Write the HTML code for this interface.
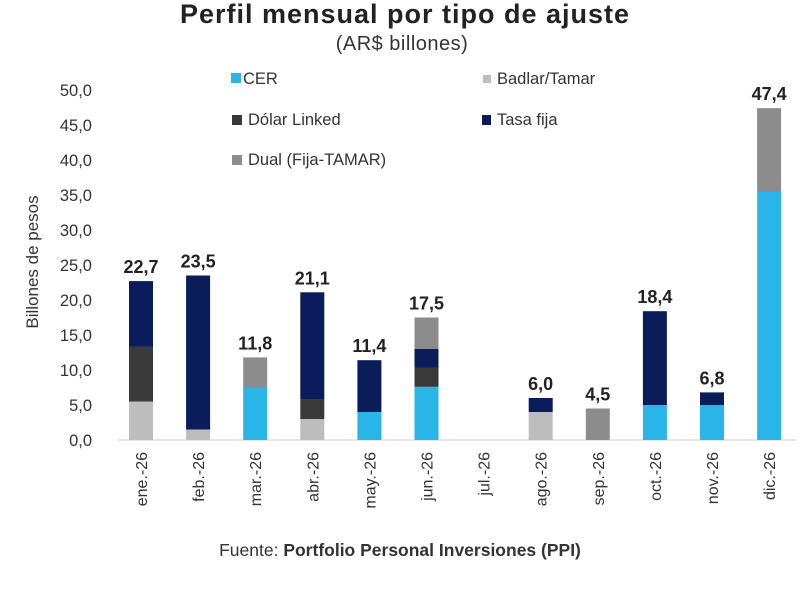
<!DOCTYPE html>
<html><head><meta charset="utf-8"><style>
body{margin:0;background:#fff;width:800px;height:588px;overflow:hidden;font-family:"Liberation Sans",sans-serif}
</style></head><body>
<svg id="chart" width="800" height="588" xmlns="http://www.w3.org/2000/svg" font-family="Liberation Sans, sans-serif">
<text x="405" y="23" text-anchor="middle" font-size="27" font-weight="bold" fill="#222" letter-spacing="1">Perfil mensual por tipo de ajuste</text>
<text x="402" y="50" text-anchor="middle" font-size="20" fill="#333" letter-spacing="0.5">(AR$ billones)</text>
<text transform="translate(38,262) rotate(-90)" text-anchor="middle" font-size="17" fill="#333">Billones de pesos</text>
<g font-size="16.5" fill="#333">
<rect x="231" y="73" width="10" height="10" fill="#29b5e8"/><text x="243" y="84">CER</text>
<rect x="483" y="75" width="8" height="8" fill="#bdbdbd"/><text x="497" y="84">Badlar/Tamar</text>
<rect x="232" y="115" width="10" height="10" fill="#3a3a3a"/><text x="248" y="125">Dólar Linked</text>
<rect x="482" y="115" width="9" height="10" fill="#0b1c5a"/><text x="497" y="125">Tasa fija</text>
<rect x="232" y="155" width="10" height="10" fill="#8c8c8c"/><text x="248" y="165">Dual (Fija-TAMAR)</text>
</g>
<g id="axes"></g><g id="bars"></g>
<text x="400" y="556" text-anchor="middle" font-size="17.5" fill="#333">Fuente: <tspan font-weight="bold">Portfolio Personal Inversiones (PPI)</tspan></text>
</svg>
<script>
const categories=["ene.-26","feb.-26","mar.-26","abr.-26","may.-26","jun.-26","jul.-26","ago.-26","sep.-26","oct.-26","nov.-26","dic.-26"];
const cer=[0,0,7.5,0,4.0,7.6,0,0,0,5.0,5.0,35.5];
const badlar=[5.5,1.5,0,3.0,0,0,0,4.0,0,0,0,0];
const dolarLinked=[7.8,0,0,2.8,0,2.7,0,0,0,0,0,0];
const tasaFija=[9.4,22.0,0,15.3,7.4,2.7,0,2.0,0,13.4,1.8,0];
const dual=[0,0,4.3,0,0,4.5,0,0,4.5,0,0,11.9];
const totals=["22,7","23,5","11,8","21,1","11,4","17,5","","6,0","4,5","18,4","6,8","47,4"];
const yTicks=[0,5,10,15,20,25,30,35,40,45,50];
const series=[["cer",cer,"#29b5e8"],["badlar",badlar,"#bdbdbd"],["dolar-linked",dolarLinked,"#3a3a3a"],["tasa-fija",tasaFija,"#0b1c5a"],["dual",dual,"#8c8c8c"]];
const NS="http://www.w3.org/2000/svg";
const y0=440,pxPer=7,x0=141,step=57.1,bw=24;
const yS=v=>y0-v*pxPer, xS=i=>x0+i*step;
function mk(t,a,p){const e=document.createElementNS(NS,t);for(const k in a)e.setAttribute(k,a[k]);p.appendChild(e);return e;}
const ax=document.getElementById("axes"),bg=document.getElementById("bars");
yTicks.forEach(v=>{const t=mk("text",{x:92,y:yS(v)+6,"text-anchor":"end","font-size":16.5,fill:"#333"},ax);


t.textContent=v.toFixed(1).replace('.',',');});
const axl=mk("line",{x1:118,x2:796,y1:y0,y2:y0,stroke:"#ccc","stroke-width":1},ax);


categories.forEach((c,i)=>{const cx=xS(i);
const t=mk("text",{transform:`translate(${cx+6},452) rotate(-90)`,"text-anchor":"end","font-size":16,fill:"#333"},ax);


t.textContent=c;
let acc=0;
series.forEach(([n,arr,col])=>{const v=arr[i];if(v>0){const r=mk("rect",{x:cx-bw/2,y:yS(acc+v),width:bw,height:v*pxPer,fill:col},bg);

acc+=v;}});
if(totals[i]){const l=mk("text",{x:cx,y:yS(acc)-8,"text-anchor":"middle","font-size":18,"font-weight":"bold",fill:"#222"},bg);


l.textContent=totals[i];}});
</script>
</body></html>
